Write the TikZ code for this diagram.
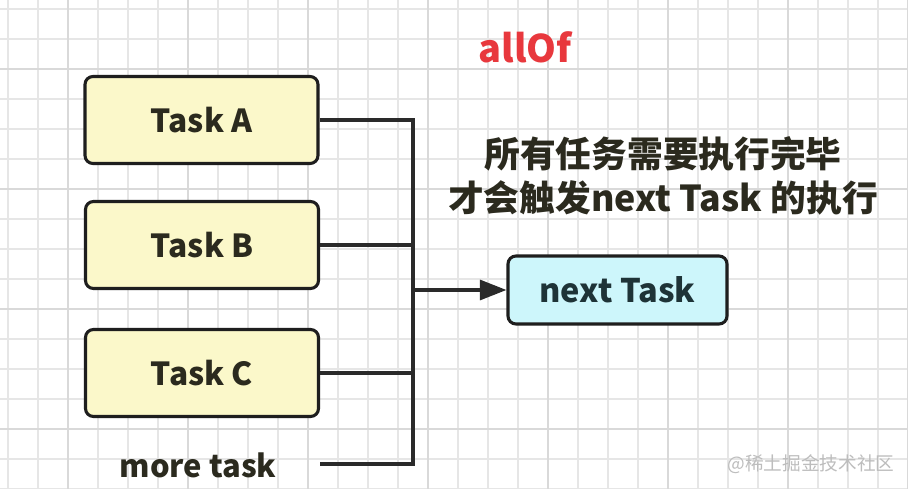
\documentclass[tikz,border=0pt]{standalone}
\usepackage{fontspec}
\setmainfont{Noto Sans CJK SC}
\usetikzlibrary{arrows.meta}
\definecolor{gridminor}{HTML}{E6E6E6}
\definecolor{gridmajor}{HTML}{D9D9D9}
\definecolor{taskfill}{HTML}{FBF8CA}
\definecolor{nextfill}{HTML}{CDF6FB}
\definecolor{boxline}{HTML}{1E1E1E}
\definecolor{wire}{HTML}{2A2A2A}
\definecolor{tasktext}{HTML}{2B2A1E}
\definecolor{nexttext}{HTML}{1E3337}
\definecolor{titlered}{HTML}{E8383D}
\definecolor{marktext}{HTML}{BDBDBD}
\begin{document}
\begin{tikzpicture}[x=0.75pt,y=-0.75pt,
  taskbox/.style={draw=boxline, line width=2.3pt, rounded corners=6pt, fill=taskfill,
    minimum width={233*0.75pt}, minimum height={87*0.75pt}, inner sep=0pt,
    text=tasktext, font=\fontsize{23.8}{30}\selectfont\bfseries},
  nextbox/.style={draw=boxline, line width=2.3pt, rounded corners=6pt, fill=nextfill,
    minimum width={219*0.75pt}, minimum height={68*0.75pt}, inner sep=0pt,
    text=nexttext, font=\fontsize{24.4}{30}\selectfont\bfseries},
  wireline/.style={draw=wire, line width=2.5pt},
  label/.style={inner sep=0pt, font=\fontsize{23.2}{30}\selectfont\bfseries, text=tasktext}
]
\useasboundingbox (0,0) rectangle (908,489);
\fill[white] (0,0) rectangle (908,489);
% grid
\foreach \gx in {8,38,...,908} {\draw[gridminor, line width=0.8pt] (\gx,0) -- (\gx,489);}
\foreach \gy in {9,39,...,489} {\draw[gridminor, line width=0.8pt] (0,\gy) -- (908,\gy);}
\foreach \gx in {68,188,...,908} {\draw[gridmajor, line width=0.8pt] (\gx,0) -- (\gx,489);}
\foreach \gy in {69,189,...,489} {\draw[gridmajor, line width=0.8pt] (0,\gy) -- (908,\gy);}

% title
\node[inner sep=0pt, text=titlered, font=\fontsize{28.5}{30}\selectfont\bfseries] (title) at (525,47) {allOf};

% description
\node[inner sep=0pt, align=center, text=tasktext, font=\fontsize{26.8}{33}\selectfont\bfseries] (desc) at (663,176)
  {所有任务需要执行完毕\\才会触发next Task 的执行};

% boxes
\node[taskbox] (A) at (201.5,120) {Task A};
\node[taskbox] (B) at (202,245) {Task B};
\node[taskbox] (C) at (202,373) {Task C};
\node[label] (more) at (198,465) {more task};
\node[nextbox] (N) at (617.5,290) {next Task};

% bus coordinates
\coordinate (top) at (413,120);
\coordinate (bot) at (413,464);
\coordinate (mid) at (413,290);
\coordinate (mstart) at (320,464);

\draw[wireline, line join=miter] (A.east) -- (top) -- (bot) -- (mstart);
\draw[wireline] (B.east) -- (B.east -| top);
\draw[wireline] (C.east) -- (C.east -| top);
\draw[wireline, -{Triangle[length=20pt, width=15pt]}] (mid) -- (N.west);

% watermark
\node[inner sep=0pt, text=marktext, font=\fontsize{14}{16}\selectfont] (mark) at (811,464) {@稀土掘金技术社区};
\end{tikzpicture}
\end{document}
